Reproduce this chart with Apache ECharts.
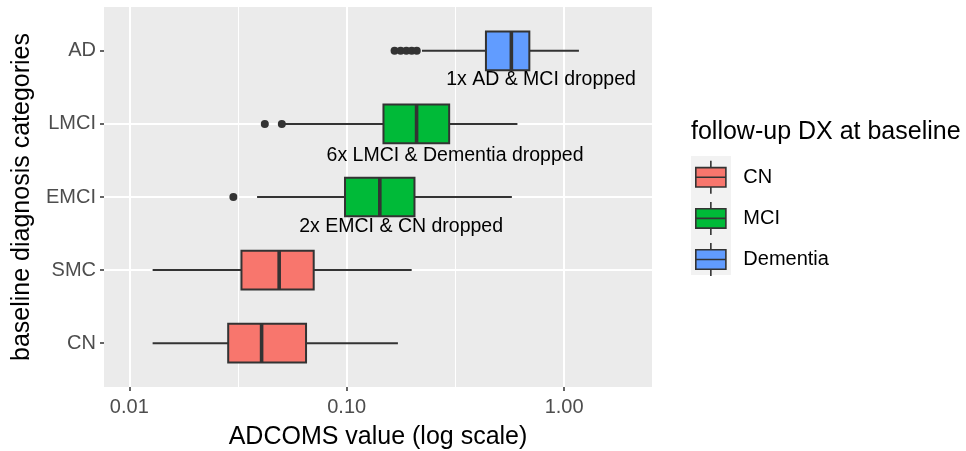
<!DOCTYPE html>
<html>
<head>
<meta charset="utf-8">
<script src="https://cdn.jsdelivr.net/npm/echarts@6/dist/echarts.min.js"></script>
<style>html,body{margin:0;padding:0;background:#fff}#c{width:966px;height:451px}</style>
</head>
<body>
<div id="c"></div>
<script>
// ---- data ----
const categories = ['CN', 'SMC', 'EMCI', 'LMCI', 'AD'];
const followUpGroups = ['CN', 'MCI', 'Dementia'];
const groupOfCategory = [0, 0, 1, 1, 2];
const whiskerLow  = [0.0128, 0.0128, 0.0387, 0.052, 0.222];
const q1          = [0.0285, 0.0328, 0.0982, 0.1476, 0.437];
const median      = [0.0406, 0.0489, 0.142, 0.2096, 0.572];
const q3          = [0.0650, 0.0705, 0.205, 0.296, 0.692];
const whiskerHigh = [0.172, 0.199, 0.575, 0.610, 1.17];
const outlierValue    = [0.0301, 0.042, 0.0503, 0.166, 0.177, 0.188, 0.199, 0.210];
const outlierCategory = [2, 3, 3, 4, 4, 4, 4, 4];
const notes = ['2x EMCI & CN dropped', '6x LMCI & Dementia dropped', '1x AD & MCI dropped'];
const noteX = [0.178, 0.315, 0.783];
const noteY = [1.59, 2.56, 3.6];
const xTicks = [0.01, 0.1, 1];
const xMinorTicks = [0.031623, 0.31623];
const xMin = 0.007648, xMax = 2.537;
const yMin = -0.6, yMax = 4.6;

const groupColors = ['#F8766D', '#00BA38', '#619CFF'];
const FONT = '"Liberation Sans", Arial, sans-serif';
const BOX_HALF = 0.265;

function renderBox(params, api) {
  const y = api.value(0);
  const lo = api.coord([api.value(1), y]);
  const b1 = api.coord([api.value(2), y + BOX_HALF]);
  const b2 = api.coord([api.value(4), y - BOX_HALF]);
  const med = api.coord([api.value(3), y]);
  const hi = api.coord([api.value(5), y]);
  const color = api.visual('color');
  const ln = {stroke: '#333333', lineWidth: 2};
  return {type: 'group', children: [
    {type: 'line', shape: {x1: lo[0], y1: lo[1], x2: b1[0], y2: lo[1]}, style: ln},
    {type: 'line', shape: {x1: b2[0], y1: hi[1], x2: hi[0], y2: hi[1]}, style: ln},
    {type: 'rect', shape: {x: b1[0], y: b1[1], width: b2[0] - b1[0], height: b2[1] - b1[1]},
      style: {fill: color, stroke: '#333333', lineWidth: 2}},
    {type: 'line', shape: {x1: med[0], y1: b1[1], x2: med[0], y2: b2[1]},
      style: {stroke: '#333333', lineWidth: 3.6}}
  ]};
}

const boxSeries = followUpGroups.map((g, gi) => {
  const data = [];
  categories.forEach((c, ci) => {
    if (groupOfCategory[ci] === gi) {
      data.push([ci, whiskerLow[ci], q1[ci], median[ci], q3[ci], whiskerHigh[ci]]);
    }
  });
  return {
    name: g, type: 'custom', xAxisIndex: 0, yAxisIndex: 0,
    itemStyle: {color: groupColors[gi]},
    encode: {x: [1, 2, 3, 4, 5], y: 0},
    renderItem: renderBox, data: data, z: 3
  };
});

const outlierSeries = {
  name: 'outliers', type: 'scatter', xAxisIndex: 0, yAxisIndex: 0,
  symbol: 'circle', symbolSize: 8, itemStyle: {color: '#333333', opacity: 1}, z: 4,
  data: outlierValue.map((v, i) => [v, outlierCategory[i]])
};

const noteSeries = {
  name: 'notes', type: 'custom', xAxisIndex: 0, yAxisIndex: 0, z: 5,
  encode: {x: 0, y: 1},
  data: noteX.map((x, i) => [x, noteY[i]]),
  renderItem: function (params, api) {
    const p = api.coord([api.value(0), api.value(1)]);
    return {type: 'text', x: p[0], y: p[1], style: {
      text: notes[params.dataIndex], fontSize: 19.5, fontFamily: FONT, fill: '#000000',
      textAlign: 'center', textVerticalAlign: 'middle'}};
  }
};

const chart = echarts.init(document.getElementById('c'), null, {renderer: 'canvas'});
chart.setOption({
  animation: false,
  backgroundColor: '#ffffff',
  textStyle: {fontFamily: FONT},
  grid: {left: 104, right: 314, top: 7, bottom: 64, show: true, backgroundColor: '#EBEBEB', borderWidth: 0,
    containLabel: false, outerBoundsMode: 'none'},
  title: {text: 'follow-up DX at baseline', left: 691, top: 120, padding: 0,
    textStyle: {fontFamily: FONT, fontSize: 25, fontWeight: 'normal', color: '#000', lineHeight: 25}},
  legend: {
    data: followUpGroups, orient: 'vertical', left: 695, top: 160, padding: 0,
    itemWidth: 31, itemHeight: 33, itemGap: 6.5,
    icon: 'path://M0,7 L31,7 L31,27 L0,27 Z M0,17 L31,17 M15.5,0 L15.5,7 M15.5,27 L15.5,34',
    itemStyle: {borderColor: '#333333', borderWidth: 1.6},
    textStyle: {fontFamily: FONT, fontSize: 20, color: '#000', padding: [0, 0, 0, 12]},
    selectedMode: false
  },
  graphic: [{type: 'rect', left: 691, top: 156, shape: {width: 40, height: 119}, style: {fill: '#F2F2F2'}, z: -1}],
  xAxis: [{
    type: 'log', logBase: 10, min: xMin, max: xMax, position: 'bottom',
    name: 'ADCOMS value (log scale)', nameLocation: 'middle', nameGap: 38,
    nameTextStyle: {fontFamily: FONT, fontSize: 25, color: '#000'},
    axisLine: {show: false, onZero: false},
    axisTick: {show: true, length: 4, customValues: xTicks, lineStyle: {color: '#333333', width: 1.5}},
    axisLabel: {customValues: xTicks, formatter: v => Number(v).toFixed(2), fontFamily: FONT, fontSize: 20, color: '#4D4D4D', margin: 10},
    splitLine: {show: true, showMinLine: true, showMaxLine: true, lineStyle: {color: '#FFFFFF', width: 2}},
    z: 2
  }, {
    type: 'log', logBase: 10, min: xMin, max: xMax, position: 'bottom',
    axisLine: {show: false, onZero: false}, axisLabel: {show: false},
    axisTick: {show: false, customValues: xMinorTicks},
    splitLine: {show: true, showMinLine: true, showMaxLine: true, lineStyle: {color: '#FFFFFF', width: 1}},
    z: 1
  }],
  yAxis: [{
    type: 'value', min: yMin, max: yMax,
    name: 'baseline diagnosis categories', nameLocation: 'middle', nameGap: 67, nameRotate: 90,
    nameTextStyle: {fontFamily: FONT, fontSize: 25, color: '#000'},
    axisLine: {show: false, onZero: false},
    axisTick: {show: true, length: 4, customValues: [0, 1, 2, 3, 4], lineStyle: {color: '#333333', width: 1.5}},
    axisLabel: {customValues: [0, 1, 2, 3, 4], formatter: v => categories[Math.round(v)] || '', fontFamily: FONT, fontSize: 20, color: '#4D4D4D', margin: 8},
    splitLine: {show: true, showMinLine: false, showMaxLine: false, lineStyle: {color: '#FFFFFF', width: 2}}
  }],
  series: [...boxSeries, outlierSeries, noteSeries]
});
</script>
</body>
</html>
